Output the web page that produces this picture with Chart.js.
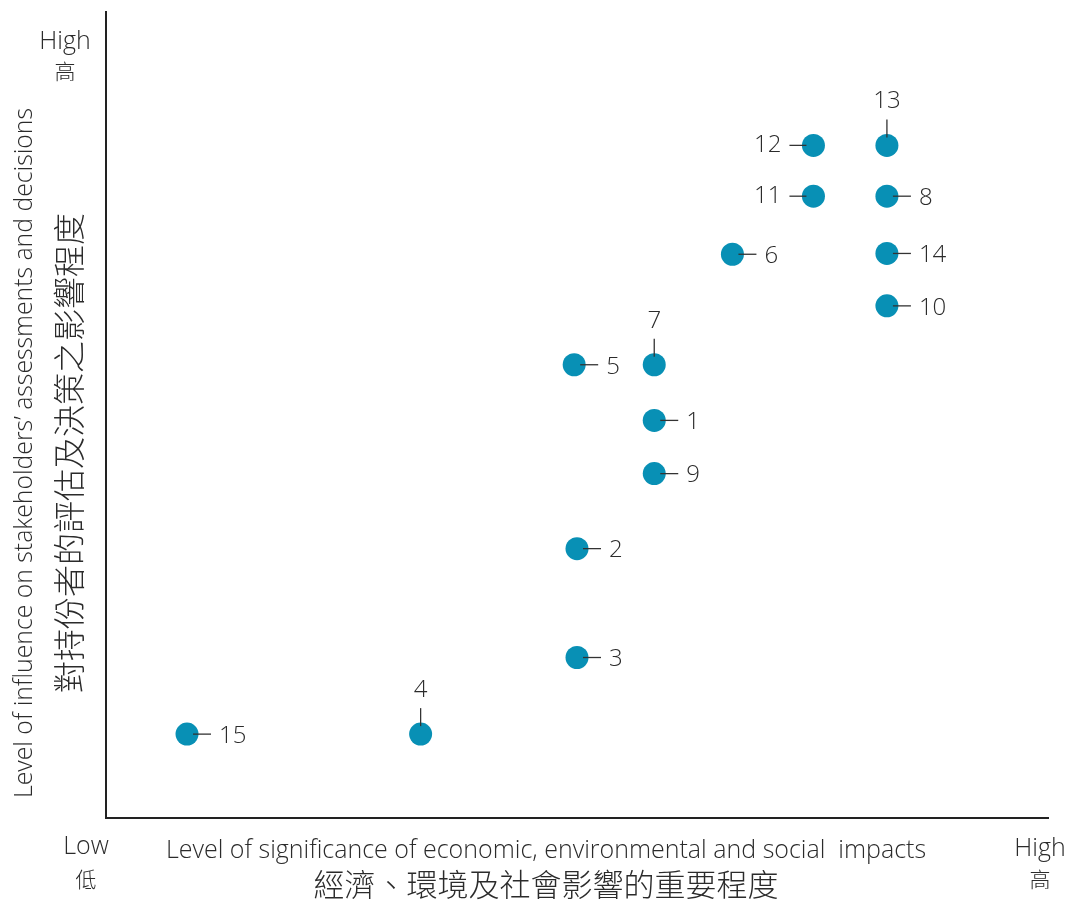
<!DOCTYPE html>
<html>
<head>
<meta charset="utf-8">
<title>Materiality matrix</title>
<script src="https://cdn.jsdelivr.net/npm/chart.js@4/dist/chart.umd.min.js"></script>
<style>
  html, body { margin: 0; padding: 0; background: #fff; }
  #wrap { width: 1067px; height: 900px; position: relative; }
</style>
</head>
<body>
<div id="wrap"><canvas id="matrix" width="1067" height="900"></canvas></div>
<script>
// issue numbers and their positions on the matrix (0-100 scale)
const issueIds = ['1', '2', '3', '4', '5', '6', '7', '8', '9', '10', '11', '12', '13', '14', '15'];
const impactLevel = [58.2, 50.0, 50.0, 33.4, 49.7, 66.5, 58.2, 82.9, 58.2, 82.9, 75.1, 75.1, 82.9, 82.9, 8.6];
const influenceLevel = [49.3, 33.4, 19.9, 10.4, 56.2, 69.9, 56.2, 77.1, 42.7, 63.5, 77.1, 83.4, 83.4, 70.0, 10.4];

// which side of the dot the number sits on
const labelSide = ['right', 'right', 'right', 'top', 'right', 'right', 'top', 'right', 'right', 'right', 'left', 'left', 'top', 'right', 'right'];

const LATIN = '"Open Sans", "Noto Sans", sans-serif';
const CJK = '"Noto Sans CJK TC", "Noto Sans CJK SC", sans-serif';
const INK = '#2b2b2b';

const leaderLabels = {
   id: 'leaderLabels',
   afterDatasetsDraw(chart) {
      const ctx = chart.ctx;
      const pts = chart.getDatasetMeta(0).data;
      ctx.save();
      ctx.strokeStyle = '#333';
      ctx.lineWidth = 1.3;
      ctx.fillStyle = INK;
      ctx.font = '300 24px ' + LATIN;
      ctx.textBaseline = 'middle';
      pts.forEach((p, i) => {
         const side = labelSide[i];
         ctx.beginPath();
         if (side === 'right') {
            ctx.moveTo(p.x + 6, p.y);
            ctx.lineTo(p.x + 24, p.y);
            ctx.stroke();
            ctx.textAlign = 'left';
            ctx.fillText(issueIds[i], p.x + 32, p.y + 2);
         } else if (side === 'left') {
            ctx.moveTo(p.x - 7, p.y);
            ctx.lineTo(p.x - 24, p.y);
            ctx.stroke();
            ctx.textAlign = 'right';
            ctx.fillText(issueIds[i], p.x - 32, p.y);
         } else {
            ctx.moveTo(p.x, p.y - 8);
            ctx.lineTo(p.x, p.y - 26);
            ctx.stroke();
            ctx.textAlign = 'center';
            ctx.fillText(issueIds[i], p.x, p.y - 44);
         }
      });
      ctx.restore();
   },
   afterDraw(chart) {
      const ctx = chart.ctx;
      ctx.save();
      ctx.fillStyle = INK;
      ctx.textAlign = 'center';
      ctx.textBaseline = 'middle';

      // end labels
      ctx.font = '300 25px ' + LATIN;
      ctx.fillText('High', 65, 42);
      ctx.fillText('Low', 86, 847);
      ctx.fillText('High', 1040, 849);
      ctx.font = '300 21px ' + CJK;
      ctx.fillText('高', 65, 71);
      ctx.fillText('低', 86, 879);
      ctx.fillText('高', 1040, 879);

      // x axis title
      ctx.font = '300 25px ' + LATIN;
      ctx.fillText('Level of significance of economic, environmental and social  impacts', 546, 851, 766);
      ctx.font = '300 31px ' + CJK;
      ctx.fillText('經濟、環境及社會影響的重要程度', 546, 884);

      // y axis title
      ctx.translate(25, 453);
      ctx.rotate(-Math.PI / 2);
      ctx.font = '300 25px ' + LATIN;
      ctx.fillText('Level of influence on stakeholders\u2019 assessments and decisions', 0, 0, 690);
      ctx.font = '300 32px ' + CJK;
      ctx.fillText('對持份者的評估及決策之影響程度', 0, 44);
      ctx.restore();
   }
};

new Chart(document.getElementById('matrix'), {
   type: 'scatter',
   data: {
      datasets: [{
         data: impactLevel.map((x, i) => ({ x: x, y: influenceLevel[i] })),
         backgroundColor: '#0890b5',
         borderWidth: 0,
         pointRadius: 11.5,
         pointHoverRadius: 11.5
      }]
   },
   options: {
      responsive: false,
      animation: false,
      layout: { padding: { left: 106, right: 19, top: 10, bottom: 82 } },
      plugins: { legend: { display: false }, tooltip: { enabled: false } },
      scales: {
         x: {
            type: 'linear', min: 0, max: 100,
            grid: { display: false, drawTicks: false },
            ticks: { display: false },
            border: { display: true, color: '#222', width: 2 }
         },
         y: {
            type: 'linear', min: 0, max: 100,
            grid: { display: false, drawTicks: false },
            ticks: { display: false },
            border: { display: true, color: '#222', width: 2 }
         }
      }
   },
   plugins: [leaderLabels]
});
</script>
</body>
</html>
